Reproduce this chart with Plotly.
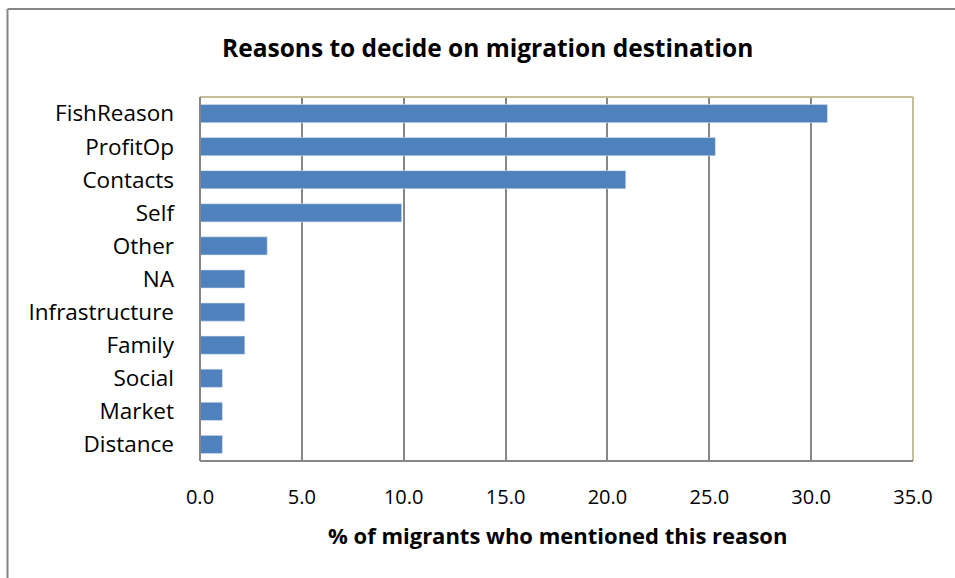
import plotly.graph_objects as go

# Share of migrants naming each reason (%), bottom to top as drawn
reasons = ["Distance", "Market", "Social", "Family", "Infrastructure", "NA",
           "Other", "Self", "Contacts", "ProfitOp", "FishReason"]
shares = [1.1, 1.1, 1.1, 2.2, 2.2, 2.2, 3.3, 9.9, 20.9, 25.3, 30.8]
x_ticks = [0, 5, 10, 15, 20, 25, 30, 35]
x_tick_labels = ["0.0", "5.0", "10.0", "15.0", "20.0", "25.0", "30.0", "35.0"]

W, H = 955, 578
FONT = "Open Sans"
GREY = "#868686"
TAN = "#C4BD97"

# plot-area box in pixels
px_l, px_r, px_t, px_b = 200, 913, 97, 461
dom_x = [px_l / W, px_r / W]
dom_y = [(H - px_b) / H, (H - px_t) / H]

fig = go.Figure(go.Bar(
    x=shares, y=reasons, orientation="h",
    marker=dict(color="#4F81BD", line=dict(color="#DCE6F2", width=0.6)),
    width=0.55,
))

fig.update_layout(
    width=W, height=H,
    margin=dict(l=0, r=0, t=0, b=0, autoexpand=False),
    paper_bgcolor="white", plot_bgcolor="white",
    showlegend=False,
    font=dict(family=FONT, size=20, color="black"),
    xaxis=dict(
        domain=dom_x, range=[0, 35], tickvals=x_ticks, ticktext=x_tick_labels,
        showgrid=True, gridcolor=GREY, gridwidth=2, zeroline=False,
        showline=False, ticks="", ticklabelstandoff=22, automargin=False,
        tickfont=dict(family=FONT, size=20),
        fixedrange=True,
    ),
    yaxis=dict(
        domain=dom_y, range=[-0.5, 10.5], showgrid=False, zeroline=False,
        showline=False, ticks="", ticklabelstandoff=25, automargin=False,
        tickfont=dict(family=FONT, size=22.5),
        fixedrange=True,
    ),
    annotations=[
        dict(text="<b>Reasons to decide on migration destination</b>",
             x=487 / W, y=1 - 47 / H, xref="paper", yref="paper",
             xanchor="center", yanchor="middle", showarrow=False,
             font=dict(family=FONT, size=24.5)),
        dict(text="<b>% of migrants who mentioned this reason</b>",
             x=557 / W, y=1 - 535 / H, xref="paper", yref="paper",
             xanchor="center", yanchor="middle", showarrow=False,
             font=dict(family=FONT, size=22)),
    ],
    shapes=[
        # outer chart-area frame
        dict(type="line", xref="paper", yref="paper",
             x0=7.5 / W, x1=1.01, y0=1 - 9 / H, y1=1 - 9 / H,
             line=dict(color=GREY, width=2)),
        dict(type="line", xref="paper", yref="paper",
             x0=7.5 / W, x1=7.5 / W, y0=-0.01, y1=1 - 9 / H,
             line=dict(color=GREY, width=2)),
        # plot-area border: tan top/right, grey left/bottom
        dict(type="line", xref="paper", yref="paper",
             x0=dom_x[0], x1=dom_x[1], y0=dom_y[1], y1=dom_y[1],
             line=dict(color=TAN, width=2)),
        dict(type="line", xref="paper", yref="paper",
             x0=dom_x[1], x1=dom_x[1], y0=dom_y[0], y1=dom_y[1],
             line=dict(color=TAN, width=2)),
        dict(type="line", xref="paper", yref="paper",
             x0=dom_x[0], x1=dom_x[1], y0=dom_y[0], y1=dom_y[0],
             line=dict(color=GREY, width=2)),
        dict(type="line", xref="paper", yref="paper",
             x0=dom_x[0], x1=dom_x[0], y0=dom_y[0], y1=dom_y[1],
             line=dict(color=GREY, width=2)),
    ],
)

fig.write_html("out.html")
